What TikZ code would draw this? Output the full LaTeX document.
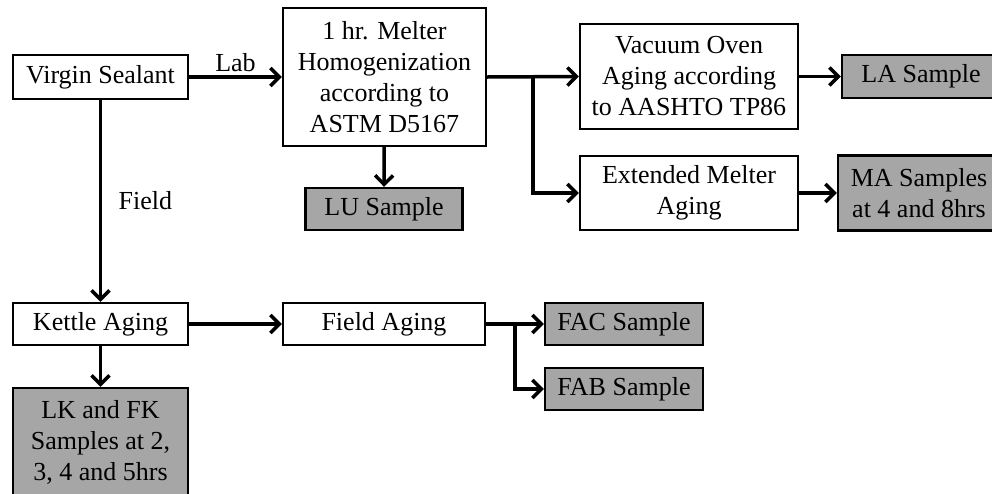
\documentclass[tikz,border=0pt]{standalone}
\usepackage{fontspec}
\setmainfont{Liberation Serif}
\usetikzlibrary{arrows.meta}
\definecolor{smp}{RGB}{166,166,166}

\begin{document}
\begin{tikzpicture}[x=1pt, y=-1pt, font=\fontsize{26}{31}\selectfont,
  box/.style={draw, line width=2.3pt, fill=white, align=center, inner sep=0pt},
  sbox/.style={box, fill=smp},
  arr/.style={line width=3.5pt, -{Straight Barb[length=9pt, width=18pt]}}]
\useasboundingbox (0,0) rectangle (992,493);
\clip (0,0) rectangle (992,493);
% lab branch
\node[box, minimum width=175pt, minimum height=44pt] (virgin) at (100.5,77) {Virgin Sealant};
\node[box, minimum width=203pt, minimum height=138pt] (melter) at (384.5,77)
  {1 hr. Melter\\Homogenization\\according to\\ASTM D5167};
\node[sbox, minimum width=157pt, minimum height=42pt] (lu) at (384,209) {LU Sample};
\node[box, minimum width=218pt, minimum height=105pt] (vacuum) at (689,76.5)
  {Vacuum Oven\\Aging according\\to AASHTO TP86};
\node[box, minimum width=218pt, minimum height=74pt] (extended) at (689,193)
  {Extended Melter\\Aging};
\node[sbox, minimum width=158pt, minimum height=43pt] (la) at (921,76.5) {LA Sample};
\node[sbox, minimum width=162pt, minimum height=75pt] (ma) at (919,193)
  {MA Samples\\at 4 and 8hrs};
% field branch
\node[box, minimum width=175pt, minimum height=42pt] (kettle) at (100.5,324) {Kettle Aging};
\node[sbox, minimum width=175pt, minimum height=108pt] (lk) at (100.5,442)
  {LK and FK\\Samples at 2,\\3, 4 and 5hrs};
\node[box, minimum width=202pt, minimum height=42pt] (field) at (384,324) {Field Aging};
\node[sbox, minimum width=158pt, minimum height=42pt] (fac) at (624,324) {FAC Sample};
\node[sbox, minimum width=158pt, minimum height=42pt] (fab) at (624,389) {FAB Sample};
\coordinate (labsplit) at (533,77);
\coordinate (fieldsplit) at (515,324);
% connectors
\draw[arr] (virgin) -- node[midway, above] {Lab} (melter);
\draw[arr] (melter) -- (lu);
\draw[arr] (melter.east) -- (vacuum.west);
\draw[arr] (labsplit) |- (extended.west);
\draw[arr] (vacuum) -- (la);
\draw[arr] (extended) -- (ma);
\draw[arr] (virgin) -- node[midway, right=13pt] {Field} (kettle);
\draw[arr] (kettle) -- (lk);
\draw[arr] (kettle) -- (field);
\draw[arr] (field.east) -- (fac.west);
\draw[arr] (fieldsplit) |- (fab.west);
\end{tikzpicture}
\end{document}
